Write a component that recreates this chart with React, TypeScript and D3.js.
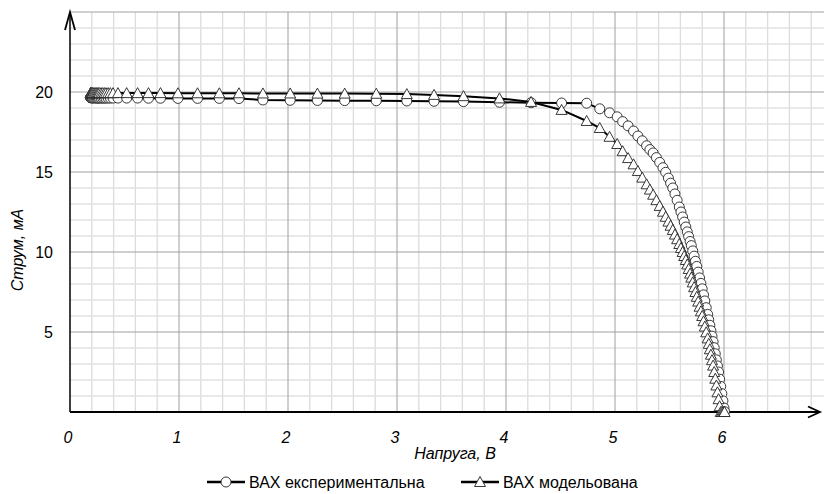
import React from "react";
import * as d3 from "d3";

// Shared voltage points (V)
const VOLTAGE = [
  0.19, 0.19, 0.19, 0.195, 0.2, 0.205, 0.21, 0.22, 0.23, 0.24, 0.25, 0.26, 0.27, 0.285, 0.3, 0.315, 0.33, 0.35, 0.37, 0.395,
  0.44, 0.52, 0.62, 0.72, 0.83, 0.99, 1.17, 1.37, 1.55, 1.77, 2.02, 2.27, 2.52, 2.81, 3.09, 3.34, 3.61, 3.94, 4.23, 4.51, 4.74,
  4.86, 4.95, 5.02, 5.07, 5.12, 5.17, 5.21, 5.25, 5.29, 5.32, 5.35, 5.38, 5.41, 5.44, 5.465, 5.49, 5.51, 5.53, 5.55, 5.57,
  5.59, 5.605, 5.62, 5.635, 5.65,
  5.663, 5.676, 5.689, 5.7, 5.713, 5.726, 5.738, 5.75, 5.763, 5.776, 5.788, 5.8, 5.812, 5.824, 5.837, 5.85, 5.86, 5.87,
  5.88, 5.89, 5.9, 5.91, 5.92, 5.93, 5.94, 5.95, 5.96, 5.97, 5.98, 5.99, 6.0, 6.005,
];

// Experimental current (mA)
const CURRENT_EXP = [
  19.66, 19.65, 19.64, 19.64, 19.64, 19.63, 19.63, 19.63, 19.63, 19.63, 19.62, 19.62, 19.62, 19.62, 19.62, 19.62, 19.62, 19.62, 19.62, 19.62,
  19.62, 19.62, 19.62, 19.61, 19.61, 19.6, 19.6, 19.6, 19.59, 19.5, 19.48, 19.47, 19.46, 19.45, 19.44, 19.42, 19.4, 19.36, 19.33, 19.31, 19.3,
  18.95, 18.7, 18.45, 18.15, 17.88, 17.56, 17.25, 16.95, 16.64, 16.4, 16.19, 15.9, 15.6, 15.27, 14.98, 14.62, 14.3, 14.0, 13.63, 13.23,
  12.81, 12.5, 12.19, 11.87, 11.56,
  11.26, 10.96, 10.66, 10.4, 10.07, 9.74, 9.42, 9.1, 8.74, 8.38, 8.04, 7.7, 7.32, 6.94, 6.52, 6.1, 5.76, 5.42,
  5.08, 4.74, 4.4, 4.02, 3.64, 3.26, 2.88, 2.5, 2.05, 1.6, 1.15, 0.7, 0.25, 0.02,
];

// Modelled current (mA)
const CURRENT_MOD = [
  19.94, 19.94, 19.93, 19.93, 19.93, 19.93, 19.93, 19.93, 19.93, 19.93, 19.93, 19.93, 19.93, 19.93, 19.93, 19.93, 19.93, 19.93, 19.93, 19.93,
  19.93, 19.93, 19.93, 19.93, 19.93, 19.92, 19.92, 19.92, 19.92, 19.91, 19.91, 19.9, 19.9, 19.89, 19.87, 19.82, 19.74, 19.6, 19.38, 18.88, 18.19,
  17.75, 17.2, 16.75, 16.3, 15.87, 15.48, 15.06, 14.65, 14.23, 13.9, 13.58, 13.24, 12.88, 12.52, 12.2, 11.9, 11.64, 11.38, 11.09, 10.8,
  10.5, 10.25, 10.0, 9.75, 9.5,
  9.22, 8.94, 8.65, 8.4, 8.1, 7.8, 7.5, 7.2, 6.9, 6.58, 6.29, 6.0, 5.67, 5.34, 4.98, 4.6, 4.26, 3.92,
  3.58, 3.24, 2.9, 2.5, 2.08, 1.66, 1.23, 0.8, 0.36, 0, 0, 0, 0, 0,
];

const X_TICKS = [0, 1, 2, 3, 4, 5, 6];
const Y_TICKS = [5, 10, 15, 20];
const SERIES_NAMES = ["ВАХ експериментальна", "ВАХ модельована"];
const X_TITLE = "Напруга, В";
const Y_TITLE = "Струм, мА";

const W = 824;
const H = 494;
const FONT = "'Liberation Sans Narrow', 'Liberation Sans', Arial, sans-serif";

const trianglePath = "M0,-5.5L5.5,4.5L-5.5,4.5Z";

export default function App() {
  const x = d3.scaleLinear().domain([0, 7]).range([70, 833]);
  const y = d3.scaleLinear().domain([0, 25]).range([412, 12]);
  const right = W;

  const vGrid = d3.range(0, 35).map((k) => k * 0.2).filter((v) => x(v) <= right);
  const hGrid = d3.range(1, 26);

  const expPts = VOLTAGE.map((v, i) => [v, CURRENT_EXP[i]] as [number, number]);
  const modPts = VOLTAGE.map((v, i) => [v, CURRENT_MOD[i]] as [number, number]);
  const line = d3
    .line<[number, number]>()
    .x((d) => x(d[0]))
    .y((d) => y(d[1]));

  const isMajorV = (k: number) => k % 5 === 0;

  return (
    <div>
      <style>{`body{margin:0}`}</style>
      <svg width={W} height={H} style={{ display: "block", background: "#fff" }} fontFamily={FONT}>
        {/* minor grid */}
        {vGrid.map((v, k) =>
          !isMajorV(k) ? (
            <line key={"vm" + k} x1={x(v)} x2={x(v)} y1={y(25)} y2={y(0)} stroke="#dcdcdc" strokeWidth={1.3} />
          ) : null
        )}
        {hGrid.map((v) =>
          v % 5 !== 0 ? (
            <line key={"hm" + v} x1={x(0)} x2={right} y1={y(v)} y2={y(v)} stroke="#e2e2e2" strokeWidth={1.6} />
          ) : null
        )}
        {/* major grid */}
        {vGrid.map((v, k) =>
          isMajorV(k) && k > 0 ? (
            <line key={"vM" + k} x1={x(v)} x2={x(v)} y1={y(25)} y2={y(0)} stroke="#a0a0a0" strokeWidth={1} />
          ) : null
        )}
        {hGrid.map((v) =>
          v % 5 === 0 ? (
            <line key={"hM" + v} x1={x(0)} x2={right} y1={y(v)} y2={y(v)} stroke="#a0a0a0" strokeWidth={1} />
          ) : null
        )}

        {/* axes */}
        <line x1={x(0)} x2={820} y1={y(0)} y2={y(0)} stroke="#000" strokeWidth={2} />
        <path d={`M808,${y(0) - 5.5}L820,${y(0)}L808,${y(0) + 5.5}`} fill="none" stroke="#000" strokeWidth={1.8} />
        <line x1={x(0)} x2={x(0)} y1={y(0)} y2={12} stroke="#000" strokeWidth={1.5} />
        <path d={`M${x(0) - 5},30L${x(0)},12L${x(0) + 5},30`} fill="none" stroke="#000" strokeWidth={1.8} />

        {/* series: experimental */}
        <path d={line(expPts) || ""} fill="none" stroke="#000" strokeWidth={2} />
        {expPts.map((p, i) => (
          <circle key={"c" + i} cx={x(p[0])} cy={y(p[1])} r={5} fill="#fff" stroke="#222" strokeWidth={0.9} />
        ))}
        {/* series: model */}
        <path d={line(modPts) || ""} fill="none" stroke="#000" strokeWidth={2} />
        {modPts.map((p, i) => (
          <path
            key={"t" + i}
            d={trianglePath}
            transform={`translate(${x(p[0])},${y(p[1])})`}
            fill="#fff"
            stroke="#222"
            strokeWidth={0.9}
          />
        ))}

        {/* tick labels */}
        {Y_TICKS.map((v) => (
          <text key={"yt" + v} x={53} y={y(v)} dy="0.35em" textAnchor="end" fontSize={16} fill="#000">
            {v}
          </text>
        ))}
        {X_TICKS.map((v) => (
          <text key={"xt" + v} x={x(v) - 2} y={443} textAnchor="middle" fontSize={16} fontStyle="italic" fill="#000">
            {v}
          </text>
        ))}

        {/* titles */}
        <text x={455} y={459} textAnchor="middle" fontSize={16} fontStyle="italic">
          {X_TITLE}
        </text>
        <text transform={`translate(23,250) rotate(-90)`} textAnchor="middle" fontSize={16} fontStyle="italic">
          {Y_TITLE}
        </text>

        {/* legend */}
        <g>
          <line x1={207} x2={245} y1={482} y2={482} stroke="#000" strokeWidth={2.5} />
          <circle cx={226} cy={482} r={5} fill="#fff" stroke="#222" strokeWidth={0.9} />
          <text x={249} y={488} fontSize={16}>
            {SERIES_NAMES[0]}
          </text>
          <line x1={461} x2={499} y1={482} y2={482} stroke="#000" strokeWidth={2.5} />
          <path d={trianglePath} transform="translate(480,482)" fill="#fff" stroke="#222" strokeWidth={0.9} />
          <text x={503} y={488} fontSize={16}>
            {SERIES_NAMES[1]}
          </text>
        </g>
      </svg>
    </div>
  );
}
